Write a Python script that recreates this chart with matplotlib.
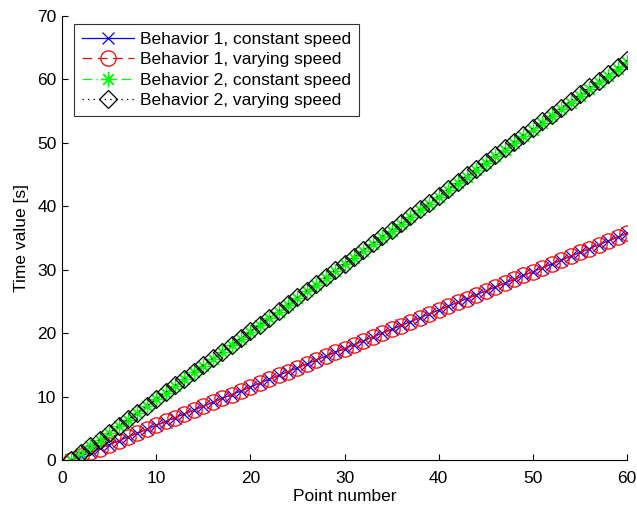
import matplotlib
matplotlib.use("Agg")
import matplotlib.pyplot as plt

plt.rcParams['font.family'] = ['Liberation Sans', 'DejaVu Sans']
plt.rcParams['lines.scale_dashes'] = False

points = list(range(1, 61))

b1_constant = [0.00, 0.61, 1.21, 1.82, 2.42, 3.03, 3.64, 4.24, 4.85, 5.45,
               6.06, 6.67, 7.27, 7.88, 8.48, 9.09, 9.70, 10.30, 10.91, 11.51,
               12.12, 12.73, 13.33, 13.94, 14.54, 15.15, 15.76, 16.36, 16.97, 17.57,
               18.18, 18.79, 19.39, 20.00, 20.60, 21.21, 21.82, 22.42, 23.03, 23.63,
               24.24, 24.85, 25.45, 26.06, 26.66, 27.27, 27.88, 28.48, 29.09, 29.69,
               30.30, 30.91, 31.51, 32.12, 32.72, 33.33, 33.94, 34.54, 35.15, 35.75]

b1_varying = [0.00, 0.60, 1.22, 1.81, 2.43, 3.02, 3.65, 4.23, 4.86, 5.44,
              6.07, 6.66, 7.28, 7.87, 8.49, 9.08, 9.71, 10.29, 10.92, 11.50,
              12.13, 12.72, 13.34, 13.93, 14.55, 15.14, 15.77, 16.35, 16.98, 17.56,
              18.19, 18.78, 19.40, 19.99, 20.61, 21.20, 21.83, 22.41, 23.04, 23.62,
              24.25, 24.84, 25.46, 26.05, 26.67, 27.26, 27.89, 28.47, 29.10, 29.68,
              30.31, 30.90, 31.52, 32.11, 32.73, 33.32, 33.95, 34.53, 35.16, 35.74]

b2_constant = [0.00, 1.06, 2.13, 3.19, 4.25, 5.32, 6.38, 7.44, 8.51, 9.57,
               10.63, 11.70, 12.76, 13.82, 14.89, 15.95, 17.01, 18.08, 19.14, 20.20,
               21.27, 22.33, 23.39, 24.46, 25.52, 26.58, 27.65, 28.71, 29.77, 30.84,
               31.90, 32.96, 34.03, 35.09, 36.15, 37.22, 38.28, 39.34, 40.41, 41.47,
               42.53, 43.60, 44.66, 45.72, 46.79, 47.85, 48.91, 49.98, 51.04, 52.10,
               53.17, 54.23, 55.29, 56.36, 57.42, 58.48, 59.55, 60.61, 61.67, 62.80]

b2_varying = [0.00, 1.07, 2.14, 3.20, 4.27, 5.34, 6.41, 7.48, 8.54, 9.61,
              10.68, 11.75, 12.82, 13.88, 14.95, 16.02, 17.09, 18.16, 19.22, 20.29,
              21.36, 22.43, 23.50, 24.56, 25.63, 26.70, 27.77, 28.84, 29.90, 30.97,
              32.04, 33.11, 34.18, 35.24, 36.31, 37.38, 38.45, 39.52, 40.58, 41.65,
              42.72, 43.79, 44.86, 45.92, 46.99, 48.06, 49.13, 50.20, 51.26, 52.33,
              53.40, 54.47, 55.54, 56.60, 57.67, 58.74, 59.81, 60.88, 61.94, 63.01]

labels = ["Behavior 1, constant speed", "Behavior 1, varying speed",
          "Behavior 2, constant speed", "Behavior 2, varying speed"]
x_ticks = [0, 10, 20, 30, 40, 50, 60]
y_ticks = [0, 10, 20, 30, 40, 50, 60, 70]

FS = 12.5

fig = plt.figure(figsize=(6.37, 5.09), dpi=100)
ax = fig.add_axes([62/637, 49/509, 565/637, 444/509])

ax.plot(points, b1_constant, color='#0000ff', linestyle='-', linewidth=0.9,
        marker='x', markersize=8, markeredgewidth=0.9, label=labels[0])
ax.plot(points, b1_varying, color='#ff0000', linestyle=(0, (7, 4)), linewidth=0.9,
        marker='o', markersize=11, markerfacecolor='none', markeredgewidth=0.9,
        label=labels[1])
ax.plot(points, b2_constant, color='#00ff00', linestyle=(0, (7, 3, 1, 3)), linewidth=0.9,
        marker=(8, 2, 0), markersize=11, markeredgewidth=0.9, label=labels[2])
ax.plot(points, b2_varying, color='black', linestyle=(0, (1, 3)), linewidth=0.9,
        marker='D', markersize=9.5, markerfacecolor='none', markeredgewidth=0.9,
        label=labels[3])

ax.set_xlim(0, 60)
ax.set_ylim(0, 70)
ax.set_xticks(x_ticks)
ax.set_yticks(y_ticks)
ax.spines['top'].set_visible(False)
ax.spines['right'].set_visible(False)
ax.spines['left'].set_linewidth(0.8)
ax.spines['bottom'].set_linewidth(0.8)
ax.tick_params(direction='in', length=4, width=0.8, labelsize=FS)
ax.tick_params(axis='y', pad=4)
ax.tick_params(axis='x', pad=8)
ax.set_xlabel("Point number", fontsize=FS, labelpad=2)
ax.set_ylabel("Time value [s]", fontsize=FS, labelpad=6)

leg = ax.legend(loc='upper left', bbox_to_anchor=(74/637, 1 - 24/509),
                bbox_transform=fig.transFigure, fontsize=FS, frameon=True,
                fancybox=False, edgecolor='black', borderpad=0.45,
                labelspacing=0.3, handlelength=3.0, handletextpad=0.35,
                borderaxespad=0)
leg.get_frame().set_linewidth(0.8)

fig.savefig("out.png", dpi=100)
